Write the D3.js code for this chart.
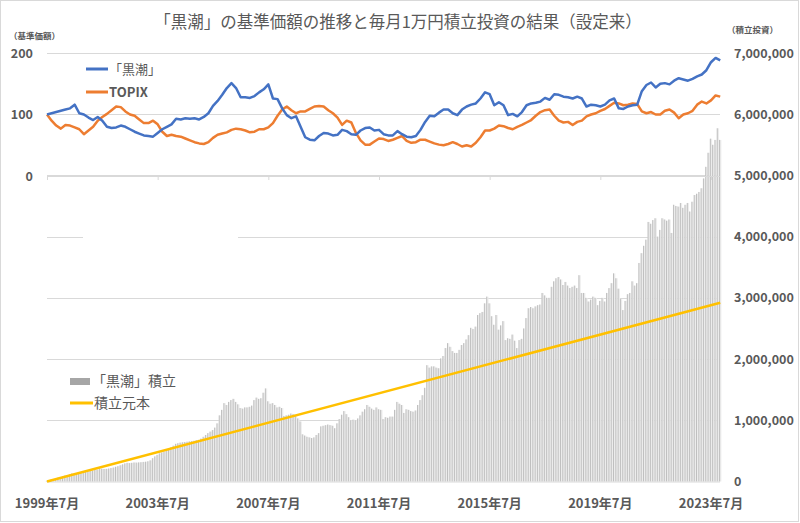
<!DOCTYPE html>
<html>
<head>
<meta charset="utf-8">
<script src="https://cdn.jsdelivr.net/npm/d3@7/dist/d3.min.js"></script>
<style>
body{margin:0;background:#fff;}
text{font-family:"Noto Sans CJK JP","Noto Sans",sans-serif;fill:#595959;}
</style>
</head>
<body>
<svg id="chart" width="800" height="523"></svg>
<script>
//month index 0 = 1999年7月
var tickMonths = [0,48,96,144,192,240,288];
var tickLabels = ["1999年7月","2003年7月","2007年7月","2011年7月","2015年7月","2019年7月","2023年7月"];
var navTicks = [0,100,200];
var investTicks = [0,1000000,2000000,3000000,4000000,5000000,6000000,7000000];

//基準価額 (設定時=100), every 2 months
var kuroshio = [100,102,104,106,108,110,116,102,100,95,91,96,90,80,78,79,82,80,76,72,
  69,66,65,64,70,76,80,84,93,92,94,93,94,92,96,102,114,122,132,143,
  151,143,128,128,127,130,136,141,149,126,125,110,99,94,97,80,63,59,58,65,
  70,69,66,67,75,73,68,67,74,78,79,74,75,68,66,66,73,68,64,63,
  65,75,88,98,97,103,108,108,102,99,108,113,116,118,126,136,133,115,120,115,
  99,101,97,104,115,118,119,121,127,124,133,132,129,128,126,129,126,113,116,115,
  113,116,123,126,110,109,113,115,116,138,148,152,144,150,151,149,155,159,157,155,
  158,162,165,172,185,192,188];
var topix = [100,90,82,77,83,82,79,76,68,74,80,90,96,101,107,113,112,105,100,98,
  92,86,86,90,84,72,65,67,65,64,61,58,55,53,52,55,62,67,69,71,
  75,77,76,74,71,72,76,76,79,86,98,108,113,107,102,105,105,109,113,114,
  113,107,102,95,83,90,87,70,58,51,51,56,61,60,57,59,62,65,57,54,
  55,59,59,56,53,51,50,52,55,52,48,50,48,54,63,74,74,77,82,81,
  78,76,80,83,87,91,98,104,107,108,98,90,87,88,83,88,90,97,100,102,
  106,109,114,119,118,115,116,118,117,105,102,104,100,100,106,108,103,94,100,102,
  106,116,121,118,123,131,129];

//毎月1万円積立の評価額 (万円), monthly
var tsumitate = [1,2,3,4.1,5.2,6.2,7.3,8.4,9.5,10.6,
  11.6,13.1,11.8,12.9,13.8,14.5,15.2,15.8,16.5,17.3,
  18,19.6,19.5,21.5,20.8,20.5,20.6,21.2,22,22.8,
  24,25,26.5,28,29.5,30.5,30,30.5,31,30.8,
  31.2,31.5,32,32.3,33,34.5,38,41,43.5,46,
  47.5,49,51,53.5,56,58.5,61.5,62.5,63.5,64,
  64.5,65,65.5,66,66.5,67.5,68,70,73,76,
  79,81.5,84,88,95,108,117,128,125,130,
  133,135,130,126,120,119,121,121,122,124,
  133,137,135,136,145,152,131,127,128,125,
  121,122,120,107,108,109,111,110,107,103,
  98,77,75,73,72,71,72,76,79,90,
  91,92,93,92,91,87,95,102,109,115,
  110,105,100,101,100,103,108,114,118,125,
  122,119,117,121,118,117,102,105,104,106,
  106,117,130,127,125,112,118,117,115,114,
  116,125,133,141,153,190,186,188,188,186,
  185,201,205,218,226,220,213,210,210,215,
  223,226,232,239,251,249,253,272,275,277,
  291,302,291,270,256,272,248,255,262,231,
  234,233,240,230,218,231,233,250,267,283,
  285,283,286,288,289,308,304,300,300,318,
  327,332,334,330,321,326,320,316,318,320,
  316,337,308,308,300,294,297,302,300,288,
  295,300,294,308,316,324,340,332,315,298,
  280,295,306,308,327,320,324,357,373,385,
  395,424,421,427,430,400,411,430,428,426,
  428,406,452,450,449,455,447,452,455,441,
  457,468,470,473,479,495,514,537,560,550,
  558,577,558];

//積立元本 (straight line)
var principalMonths = [0,292];
var principal = [0,2920000];

var svg = d3.select("#chart");

var x = d3.scaleLinear().domain([0,288]).range([47,711]);
var yNav = d3.scaleLinear().domain([0,200]).range([176,53]);
var yInv = d3.scaleLinear().domain([0,7000000]).range([481.5,53]);
var step = x(1) - x(0);

svg.append("rect").attr("x",0.5).attr("y",0.5).attr("width",798).attr("height",521)
  .attr("fill","#fff").attr("stroke","#d9d9d9");

//grid lines
svg.append("g").selectAll("line").data(investTicks.slice(1)).join("line")
  .attr("x1",47).attr("x2",720)
  .attr("y1",function(d){ return Math.round(yInv(d))+0.5; })
  .attr("y2",function(d){ return Math.round(yInv(d))+0.5; })
  .attr("stroke","#d9d9d9").attr("stroke-width",1);
//gap in 4,000,000 line
svg.append("rect").attr("x",83).attr("y",yInv(4000000)-3).attr("width",155).attr("height",6).attr("fill","#fff");

//bars
var bars = svg.append("g");
bars.selectAll("rect").data(tsumitate).join("rect")
  .attr("x",function(d,i){ return x(i)-step/2; })
  .attr("y",function(d){ return yInv(d*10000); })
  .attr("width",step)
  .attr("height",function(d){ return yInv(0)-yInv(d*10000); })
  .attr("fill","#ececec");
bars.selectAll("line").data(tsumitate).join("line")
  .attr("x1",function(d,i){ return x(i)-step/2+0.5; })
  .attr("x2",function(d,i){ return x(i)-step/2+0.5; })
  .attr("y1",function(d){ return yInv(d*10000); })
  .attr("y2",yInv(0))
  .attr("stroke","#b0b0b0").attr("stroke-width",0.75);

svg.append("line").attr("x1",47).attr("x2",720).attr("y1",482).attr("y2",482)
  .attr("stroke","#d9d9d9");

//principal line
svg.append("path")
  .datum(principal)
  .attr("fill","none").attr("stroke","#FFC000").attr("stroke-width",2.5)
  .attr("d",d3.line().x(function(d,i){ return x(principalMonths[i]); }).y(function(d){ return yInv(d); }));

//line chart axis
var xAxis = d3.axisBottom(x).tickValues(tickMonths).tickSize(4).tickFormat("");
var ax = svg.append("g").attr("transform","translate(0,176)").call(xAxis);
ax.select(".domain").attr("stroke","#d9d9d9").attr("d","M47,0.5H720");
ax.selectAll(".tick line").attr("stroke","#d9d9d9");

var navLine = d3.line().x(function(d,i){ return x(i*2); }).y(function(d){ return yNav(d); });
svg.append("path").datum(topix).attr("fill","none").attr("stroke","#ED7D31")
  .attr("stroke-width",2.5).attr("stroke-linejoin","round").attr("d",navLine);
svg.append("path").datum(kuroshio).attr("fill","none").attr("stroke","#4472C4")
  .attr("stroke-width",2.5).attr("stroke-linejoin","round").attr("d",navLine);

//axis labels
svg.append("g").selectAll("text").data(navTicks).join("text")
  .attr("x",33).attr("y",function(d){ return yNav(d)+4.5; })
  .attr("text-anchor","end").attr("font-size",12.5).attr("font-weight","bold")
  .text(function(d){ return d; });
svg.append("g").selectAll("text").data(investTicks).join("text")
  .attr("x",734).attr("y",function(d){ return yInv(d)+4.5; })
  .attr("font-size",12.5).attr("font-weight","bold")
  .text(function(d){ return d3.format(",")(d); });
svg.append("g").selectAll("text").data(tickMonths).join("text")
  .attr("x",function(d){ return x(d); }).attr("y",508)
  .attr("text-anchor","middle").attr("font-size",13).attr("font-weight","bold")
  .text(function(d,i){ return tickLabels[i]; });

svg.append("text").attr("x",9).attr("y",39).attr("font-size",8.5).attr("font-weight","bold").text("（基準価額）");
svg.append("text").attr("x",727).attr("y",33).attr("font-size",8.5).attr("font-weight","bold").text("（積立投資）");

svg.append("text").attr("x",398).attr("y",28).attr("text-anchor","middle").attr("font-size",16.5)
  .text("「黒潮」の基準価額の推移と毎月1万円積立投資の結果（設定来）");

//legends
function legendLine(y, color, label, bold){
  svg.append("line").attr("x1",86).attr("x2",108).attr("y1",y).attr("y2",y)
    .attr("stroke",color).attr("stroke-width",3);
  svg.append("text").attr("x",109).attr("y",y+5).attr("font-size",13)
    .attr("font-weight",bold ? "bold" : "normal").text(label);
}
legendLine(69,"#4472C4","「黒潮」",false);
legendLine(92,"#ED7D31","TOPIX",true);

svg.append("rect").attr("x",70).attr("y",378).attr("width",20).attr("height",7).attr("fill","#a6a6a6");
svg.append("text").attr("x",92).attr("y",386).attr("font-size",14).text("「黒潮」積立");
svg.append("line").attr("x1",70).attr("x2",93).attr("y1",403).attr("y2",403)
  .attr("stroke","#FFC000").attr("stroke-width",3);
svg.append("text").attr("x",94).attr("y",408).attr("font-size",14).text("積立元本");
</script>
</body>
</html>
